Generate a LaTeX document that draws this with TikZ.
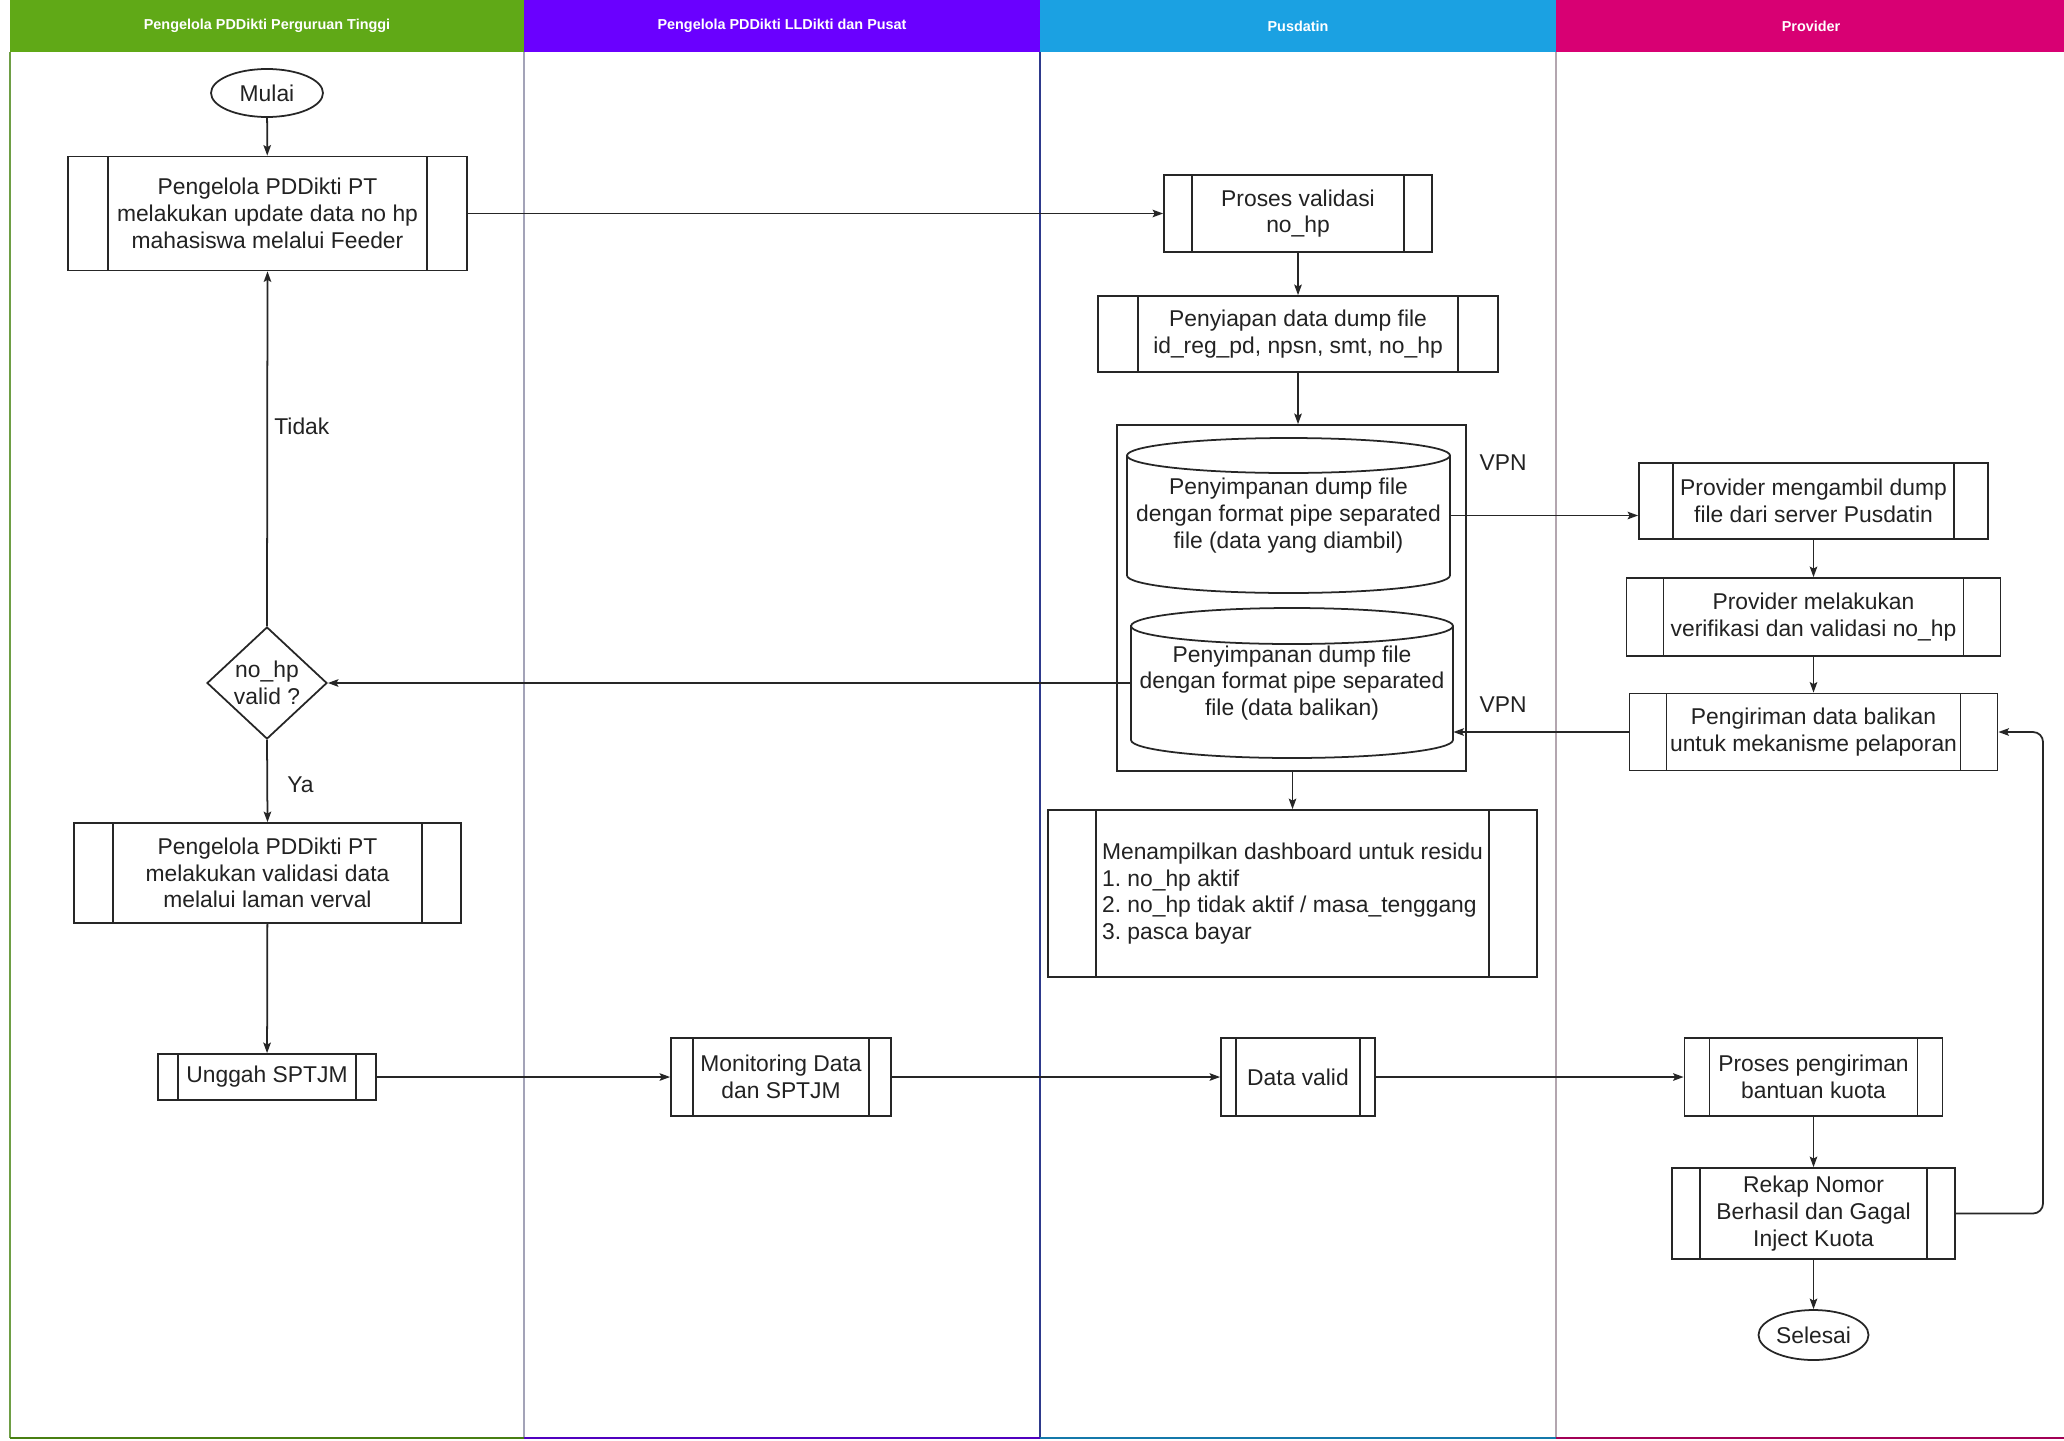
\documentclass[tikz,border=0pt]{standalone}
\usepackage{fontspec}
\setmainfont{Liberation Sans}
\usetikzlibrary{arrows.meta,shapes.geometric}
\definecolor{lgreen}{HTML}{60A917}
\definecolor{lpurple}{HTML}{6A00FF}
\definecolor{lblue}{HTML}{1BA1E2}
\definecolor{lpink}{HTML}{D80073}
\definecolor{sepa}{HTML}{A3A3B8}
\definecolor{sepb}{HTML}{2E3A8C}
\definecolor{sepc}{HTML}{B3A6AF}
\definecolor{sepl}{HTML}{6E9E45}
\definecolor{lc}{HTML}{262626}
\definecolor{tc}{HTML}{222222}
\newcommand\myfont{\fontsize{13}{15.2}\selectfont}
\frenchspacing
\begin{document}
\begin{tikzpicture}[x=0.02cm,y=-0.02cm,
  ln/.style={line width=1pt, draw=lc},
  sz/.style 2 args={minimum width=#1*0.02cm, minimum height=#2*0.02cm},
  subp/.style={ln, fill=white, inner sep=0pt, align=center, font=\myfont, text=tc,
    path picture={\draw[line width=1pt, lc]
      ([xshift=#1*0.02cm]path picture bounding box.north west) -- ([xshift=#1*0.02cm]path picture bounding box.south west)
      ([xshift=-#1*0.02cm]path picture bounding box.north east) -- ([xshift=-#1*0.02cm]path picture bounding box.south east);}},
  term/.style={ellipse, ln, fill=white, inner sep=0pt, font=\myfont, text=tc},
  lbl/.style={font=\myfont, text=tc, inner sep=0pt},
  hdr/.style={font=\fontsize{8.2}{9.8}\selectfont\bfseries, text=white, inner sep=0pt},
  arr/.style={ln, -{Stealth[length=0.21cm, width=0.15cm, inset=0.04cm]}},
  cyl/.style={ln, fill=white}
]
\useasboundingbox (0,0) rectangle (2064,1440);
\fill[white] (0,0) rectangle (2064,1440);

% lanes
\fill[lgreen] (10,0) rectangle (524,52);
\fill[lpurple] (524,0) rectangle (1040,52);
\fill[lblue] (1040,0) rectangle (1556,52);
\fill[lpink] (1556,0) rectangle (2064,52);
\node[hdr] (h1) at (267,26) {Pengelola PDDikti Perguruan Tinggi};
\node[hdr] (h2) at (782,26) {Pengelola PDDikti LLDikti dan Pusat};
\node[hdr] (h3) at (1298,26) {Pusdatin};
\node[hdr] (h4) at (1811,26) {Provider};
\draw[line width=1pt, sepl] (10,52) -- (10,1438);
\draw[line width=1pt, sepa] (524,52) -- (524,1438);
\draw[line width=1pt, sepb] (1040,52) -- (1040,1438);
\draw[line width=1pt, sepc] (1556,52) -- (1556,1438);
\draw[line width=1.4pt, lgreen!75!black] (10,1438) -- (524,1438);
\draw[line width=1.4pt, lpurple!75!black] (524,1438) -- (1040,1438);
\draw[line width=1.4pt, lblue!75!black] (1040,1438) -- (1556,1438);
\draw[line width=1.4pt, lpink!75!black] (1556,1438) -- (2064,1438);

% lane 1
\node[term, sz={112}{48}] (mulai) at (267,93) {Mulai};
\node[subp=40, sz={399}{114}] (b1) at (267.5,213.5) {Pengelola PDDikti PT\\melakukan update data no hp\\mahasiswa melalui Feeder};
\node[diamond, ln, fill=white, sz={120}{112}, inner sep=0pt] (dec) at (267,683) {};
\node[lbl, align=center] (dect) at (dec) {no\_hp\\valid ?};
\node[subp=39, sz={387}{100}] (vv) at (267.5,873) {Pengelola PDDikti PT\\melakukan validasi data\\melalui laman verval};
\node[subp=20, sz={218}{46}] (ung) at (267,1077) {Unggah SPTJM};
\node[lbl, anchor=west] (tidak) at (274,426) {Tidak};
\node[lbl, anchor=west] (ya) at (287,785) {Ya};

% lane 2
\node[subp=22, sz={220}{78}] (mon) at (781,1077) {Monitoring Data\\dan SPTJM};

% lane 3
\node[subp=28, sz={268}{77}] (pv) at (1298,213.5) {Proses validasi\\no\_hp};
\node[subp=40, sz={400}{76}] (py) at (1298,334) {Penyiapan data dump file\\id\_reg\_pd, npsn, smt, no\_hp};
\node[ln, sz={349}{346}] (cont) at (1291.5,598) {};
\draw[cyl] (1127,455.5) -- (1127,575.5) arc[start angle=180,end angle=360,x radius=3.23cm,y radius=0.35cm]
  -- (1450,455.5) arc[start angle=0,end angle=180,x radius=3.23cm,y radius=0.35cm] -- cycle;
\draw[ln] (1127,455.5) arc[start angle=180,end angle=360,x radius=3.23cm,y radius=0.35cm];
\node[lbl, align=center, sz={323}{155}] (cyl1) at (1288.5,515.5) {Penyimpanan dump file\\dengan format pipe separated\\file (data yang diambil)};
\draw[cyl] (1131,626) -- (1131,740) arc[start angle=180,end angle=360,x radius=3.22cm,y radius=0.36cm]
  -- (1453,626) arc[start angle=0,end angle=180,x radius=3.22cm,y radius=0.36cm] -- cycle;
\draw[ln] (1131,626) arc[start angle=180,end angle=360,x radius=3.22cm,y radius=0.36cm];
\node[lbl, align=center, sz={322}{150}] (cyl2) at (1292,683) {Penyimpanan dump file\\dengan format pipe separated\\file (data balikan)};
\node[lbl] (vpn1) at (1503,463) {VPN};
\node[lbl] (vpn2) at (1503,705) {VPN};
\node[subp=48, sz={489}{167}, align=left] (dash) at (1292.5,893.5) {Menampilkan dashboard untuk residu\\1. no\_hp aktif\\2. no\_hp tidak aktif / masa\_tenggang\\3. pasca bayar};
\node[subp=15, sz={154}{78}] (dv) at (1298,1077) {Data valid};

% lane 4
\node[subp=34, sz={349}{76}] (pm) at (1813.5,501) {Provider mengambil dump\\file dari server Pusdatin};
\node[subp=37, sz={374}{78}] (pv2) at (1813.5,617) {Provider melakukan\\verifikasi dan validasi no\_hp};
\node[subp=37, sz={368}{77}] (pg) at (1813.5,732) {Pengiriman data balikan\\untuk mekanisme pelaporan};
\node[subp=25, sz={258}{78}] (ppk) at (1813.5,1077) {Proses pengiriman\\bantuan kuota};
\node[subp=28, sz={283}{91}] (rk) at (1813.5,1213.5) {Rekap Nomor\\Berhasil dan Gagal\\Inject Kuota};
\node[term, sz={110}{50}] (sel) at (1813.5,1335) {Selesai};
\coordinate (lp) at (2043,0);

% connectors
\draw[arr] (mulai) -- (b1);
\draw[arr] (b1.east) -- (pv.west);
\draw[arr] (pv) -- (py);
\draw[arr] (py.south) -- (py.south |- cont.north);
\draw[arr] (cyl1.east) -- (cyl1.east -| pm.west);
\draw[arr] (pm) -- (pv2);
\draw[arr] (pv2) -- (pg);
\draw[arr] (pg.west) -- (pg.west -| cyl2.east);
\draw[arr] (cyl2.west) -- (dec.east);
\draw[arr] (dec.north) -- (b1.south);
\draw[arr] (dec.south) -- (vv.north);
\draw[arr] (dash.north |- cont.south) -- (dash.north);
\draw[arr] (vv) -- (ung);
\draw[arr] (ung) -- (mon);
\draw[arr] (mon) -- (dv);
\draw[arr] (dv) -- (ppk);
\draw[arr] (ppk) -- (rk);
\draw[arr] (rk) -- (sel);
\draw[arr, rounded corners=0.2cm] (rk.east) -- (rk.east -| lp) |- (pg.east);
\end{tikzpicture}
\end{document}
